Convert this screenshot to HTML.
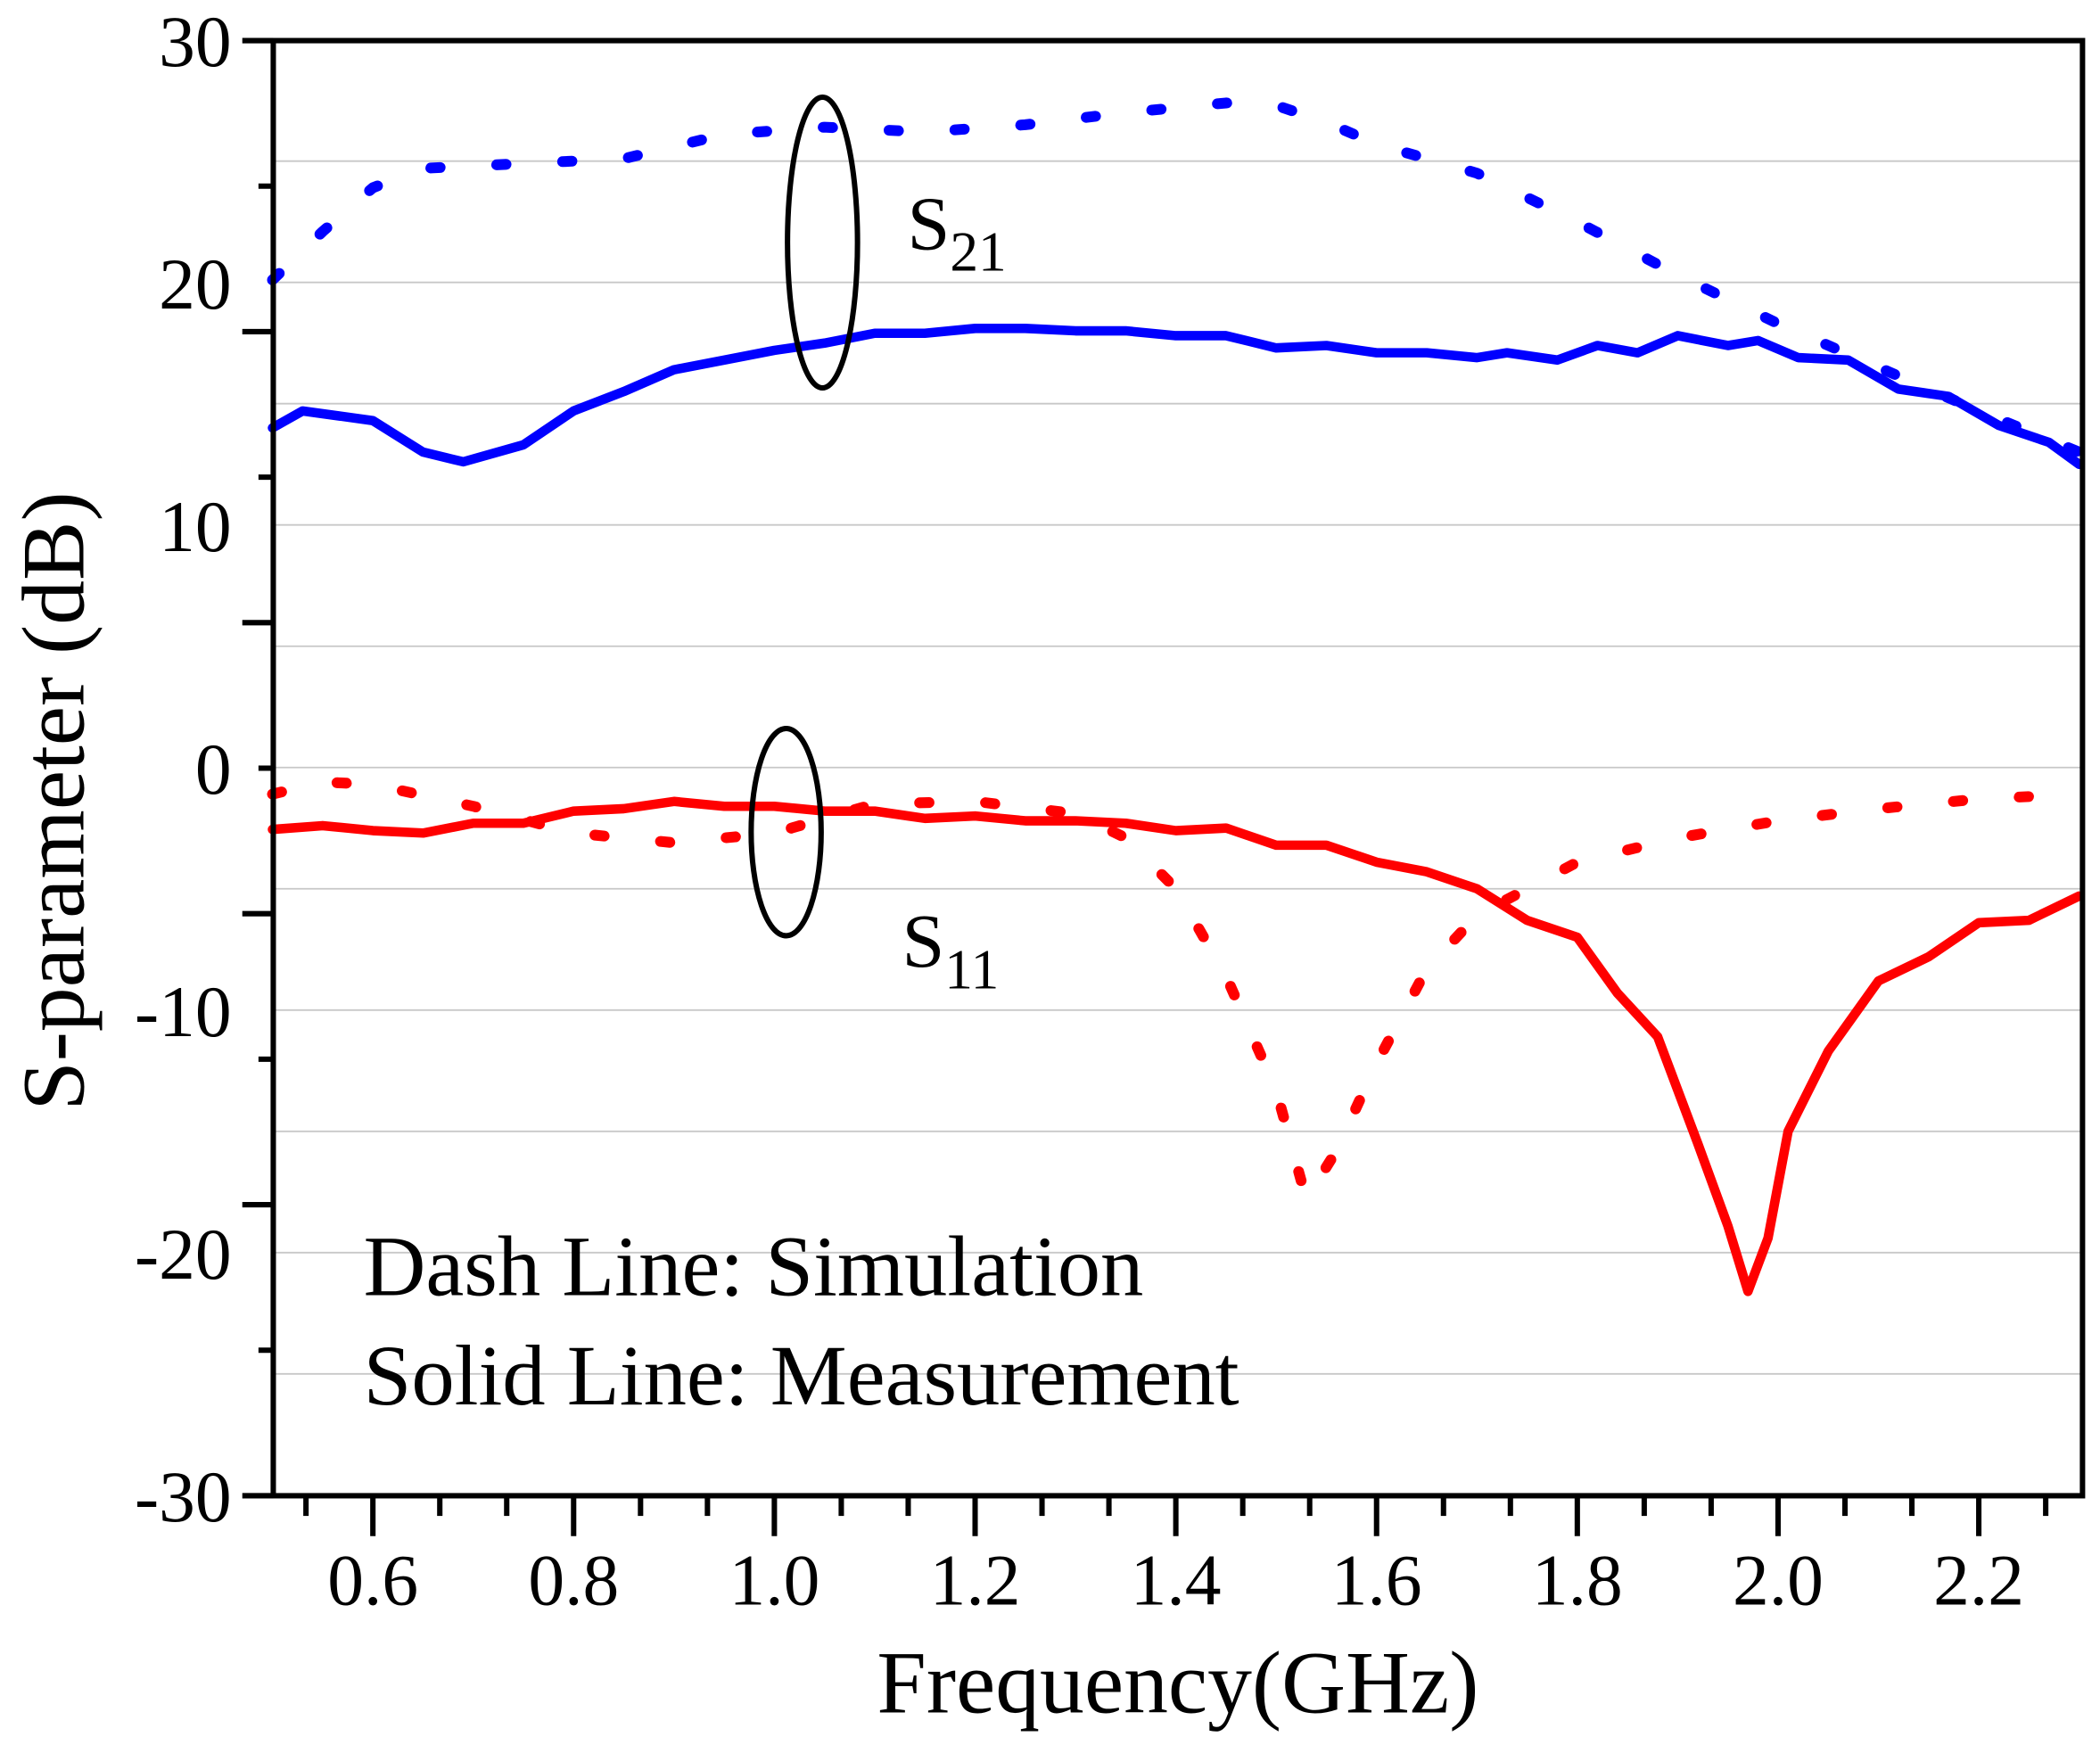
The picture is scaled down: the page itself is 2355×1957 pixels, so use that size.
<!DOCTYPE html>
<html><head><meta charset="utf-8"><style>
html,body{margin:0;padding:0;background:#fff;}
svg{display:block;}
text{font-family:"Liberation Serif",serif;fill:#000;}
</style></head><body>
<svg id="chart" width="2355" height="1957" viewBox="0 0 1560 1296" xmlns="http://www.w3.org/2000/svg">
<g id="grid"></g>
<g id="series"></g>
<g id="axes"></g>
<ellipse cx="611" cy="180" rx="26" ry="108" fill="none" stroke="#000" stroke-width="4"/>
<ellipse cx="584" cy="618" rx="26" ry="77" fill="none" stroke="#000" stroke-width="4"/>
<text x="674" y="185" font-size="57">S<tspan font-size="42" dy="16">21</tspan></text>
<text x="670" y="718" font-size="57">S<tspan font-size="42" dy="16">11</tspan></text>
<text x="270" y="962" font-size="64">Dash Line: Simulation</text>
<text x="270" y="1043" font-size="64">Solid Line: Measurement</text>
<text x="875" y="1272" font-size="66" text-anchor="middle">Frequency(GHz)</text>
<text transform="translate(62,595) rotate(-90)" font-size="66" text-anchor="middle">S-parameter (dB)</text>
</svg>
<script>
const s21MeasF=[0.5,0.53,0.6,0.65,0.69,0.75,0.8,0.85,0.9,0.95,1.0,1.05,1.1,1.15,1.2,1.25,1.3,1.35,1.4,1.45,1.5,1.55,1.6,1.65,1.7,1.73,1.78,1.82,1.86,1.9,1.95,1.98,2.02,2.07,2.12,2.17,2.22,2.27,2.3];
const s21MeasV=[14.0,14.7,14.3,13.0,12.6,13.3,14.7,15.5,16.4,16.8,17.2,17.5,17.9,17.9,18.1,18.1,18.0,18.0,17.8,17.8,17.3,17.4,17.1,17.1,16.9,17.1,16.8,17.4,17.1,17.8,17.4,17.6,16.9,16.8,15.6,15.3,14.1,13.4,12.5];
const s21SimF=[0.5,0.55,0.6,0.65,0.75,0.85,0.95,1.05,1.15,1.25,1.35,1.45,1.5,1.55,1.6,1.7,1.8,1.9,2.0,2.1,2.2,2.3];
const s21SimV=[20.1,22.1,23.9,24.7,24.9,25.1,26.1,26.4,26.2,26.5,27.0,27.4,27.3,26.6,25.7,24.5,22.5,20.3,18.3,16.5,14.7,13.0];
const s11MeasF=[0.5,0.55,0.6,0.65,0.7,0.75,0.8,0.85,0.9,0.95,1.0,1.05,1.1,1.15,1.2,1.25,1.3,1.35,1.4,1.45,1.5,1.55,1.6,1.65,1.7,1.75,1.8,1.84,1.88,1.92,1.95,1.97,1.99,2.01,2.05,2.1,2.15,2.2,2.25,2.3];
const s11MeasV=[-2.55,-2.4,-2.6,-2.7,-2.3,-2.3,-1.8,-1.7,-1.4,-1.6,-1.6,-1.8,-1.8,-2.1,-2.0,-2.2,-2.2,-2.3,-2.6,-2.5,-3.2,-3.2,-3.9,-4.3,-5.0,-6.3,-7.0,-9.3,-11.1,-15.5,-18.9,-21.6,-19.4,-15.0,-11.7,-8.8,-7.8,-6.4,-6.3,-5.3];
const s11SimF=[0.5,0.55,0.6,0.7,0.8,0.9,1.0,1.1,1.2,1.3,1.35,1.4,1.45,1.5,1.53,1.56,1.6,1.65,1.7,1.8,1.9,2.0,2.1,2.2,2.3];
const s11SimV=[-1.1,-0.6,-0.7,-1.6,-2.7,-3.1,-2.7,-1.5,-1.4,-1.9,-2.9,-5.0,-8.6,-13.3,-17.8,-15.8,-12.2,-8.3,-6.1,-3.9,-2.9,-2.2,-1.7,-1.3,-1.1];
const yTickLabels=["30","20","10","0","-10","-20","-30"];
const xTickLabels=["0.6","0.8","1.0","1.2","1.4","1.6","1.8","2.0","2.2"];

const NS="http://www.w3.org/2000/svg";
const L=203,R=1547,T=30,B=1111;
const X=f=>277+(f-0.6)*745.6;
const Y=v=>570-v*18.02;
function mk(tag,attrs,parent){const e=document.createElementNS(NS,tag);for(const k in attrs)e.setAttribute(k,attrs[k]);parent.appendChild(e);return e;}
const grid=document.getElementById('grid'),axes=document.getElementById('axes'),series=document.getElementById('series');
for(let v=-25;v<=25;v+=5){
  const g=mk('line',{x1:L,x2:R,y1:Y(v),y2:Y(v),stroke:'#c8c8c8','stroke-width':1.2},grid);
  
  
}
function path(F,V){return F.map((f,i)=>(i?'L':'M')+X(f).toFixed(1)+','+Y(V[i]).toFixed(1)).join(' ');}
const defs=[[s21SimF,s21SimV,'#0000ff',true,'s21-simulation-line'],[s11SimF,s11SimV,'#ff0000',true,'s11-simulation-line'],[s21MeasF,s21MeasV,'#0000ff',false,'s21-measurement-line'],[s11MeasF,s11MeasV,'#ff0000',false,'s11-measurement-line']];
defs.forEach(d=>{
  const a={d:path(d[0],d[1]),fill:'none',stroke:d[2],'stroke-linejoin':'round','stroke-linecap':'round'};
  if(d[3]){a['stroke-width']=8;a['stroke-dasharray']='7 42';}else{a['stroke-width']=7;}
  const p=mk('path',a,series);
  
  
});
const frame=mk('rect',{x:L,y:T,width:R-L,height:B-T,fill:'none',stroke:'#000','stroke-width':4},axes);


for(let i=0;i<=10;i++){
  const y=T+i*(B-T)/10;const major=i%2===0;
  const t=mk('line',{x1:major?180:192,x2:L,y1:y,y2:y,stroke:'#000','stroke-width':4},axes);
  
  
}
yTickLabels.forEach((s,i)=>{
  const t=mk('text',{x:172,y:T+i*(B-T)/6+19,'font-size':54,'text-anchor':'end'},axes);t.textContent=s;
  
  
});
for(let k=-1;k<=26;k++){
  const f=0.6+k*0.2/3;const x=X(f);if(x<L+5||x>R-5)continue;const major=k%3===0;
  const t=mk('line',{x1:x,x2:x,y1:B,y2:major?B+30:B+15,stroke:'#000','stroke-width':4},axes);
  
  
}
xTickLabels.forEach(s=>{
  const t=mk('text',{x:X(parseFloat(s)),y:1192,'font-size':54,'text-anchor':'middle'},axes);t.textContent=s;
  
  
});
</script>
</body></html>
